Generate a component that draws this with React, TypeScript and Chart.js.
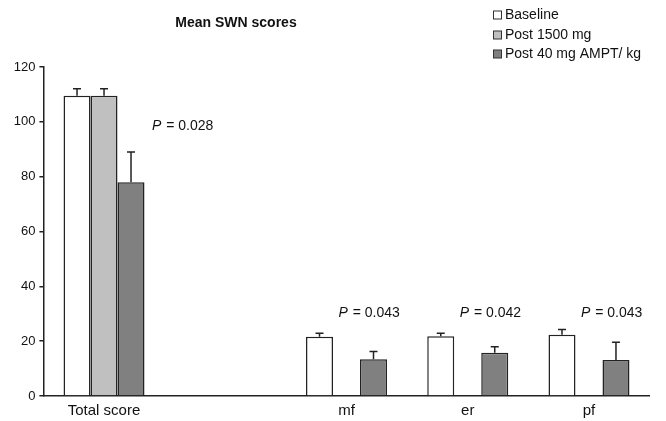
import React, { useEffect, useRef } from "react";
import { Chart, registerables } from "chart.js";

Chart.register(...registerables);

const categories = ["Total score", "", "mf", "er", "pf"];
const seriesLabels = ["Baseline", "Post 1500 mg", "Post 40 mg AMPT/ kg"];
const baseline = [109.5, null, 21.6, 21.8, 22.3];
const post1500 = [109.5, null, null, null, null];
const postAmpt = [78, null, 13.4, 15.8, 13.1];
const baselineErr = [2.6, null, 1.3, 1.1, 2.0];
const post1500Err = [2.6, null, null, null, null];
const postAmptErr = [11, null, 2.8, 2.2, 6.5];
const pTexts = ["0.028", "0.043", "0.042", "0.043"];
const pCategories = [0, 2, 3, 4];
const pValuesY = [98.6, 30.2, 30.2, 30.2];
const yTicks = [0, 20, 40, 60, 80, 100, 120];

const FONT = "'Liberation Sans', Arial, sans-serif";
const fills = ["#ffffff", "#c0c0c0", "#808080"];
const errs = [baselineErr, post1500Err, postAmptErr];

const extrasPlugin = {
  id: "extras",
  afterDatasetsDraw(chart: any) {
    const ctx = chart.ctx;
    const y = chart.scales.y;
    const x = chart.scales.x;
    ctx.save();
    // error bars
    ctx.strokeStyle = "#222";
    ctx.lineWidth = 1.5;
    chart.data.datasets.forEach((ds: any, di: number) => {
      const meta = chart.getDatasetMeta(di);
      meta.data.forEach((el: any, i: number) => {
        const v = ds.data[i];
        const e = errs[di][i];
        if (v == null || e == null) return;
        const top = y.getPixelForValue(v + e);
        const base = y.getPixelForValue(v);
        ctx.beginPath();
        ctx.moveTo(el.x, base);
        ctx.lineTo(el.x, top);
        ctx.moveTo(el.x - 4, top);
        ctx.lineTo(el.x + 4, top);
        ctx.stroke();
      });
    });
    // P annotations
    ctx.fillStyle = "#111";
    ctx.textBaseline = "middle";
    pTexts.forEach((t, k) => {
      const cat = pCategories[k];
      const cx = x.getPixelForValue(cat);
      const hasMiddle = post1500[cat] != null;
      const left = hasMiddle ? cx + 48 : cx - 8;
      const py = y.getPixelForValue(pValuesY[k]);
      ctx.textAlign = "left";
      ctx.font = `italic 14px ${FONT}`;
      ctx.fillText("P", left, py);
      const w = ctx.measureText("P").width;
      ctx.font = `14px ${FONT}`;
      ctx.fillText(" = " + t, left + w + 1, py);
    });
    // title
    ctx.font = `bold 14px ${FONT}`;
    ctx.textAlign = "center";
    ctx.fillStyle = "#111";
    ctx.fillText("Mean SWN scores", 236, 23);
    // legend
    const ly = [15, 35, 54];
    chart.data.datasets.forEach((ds: any, di: number) => {
      ctx.fillStyle = ds.backgroundColor;
      ctx.strokeStyle = "#333";
      ctx.lineWidth = 1;
      ctx.fillRect(493.5, ly[di] - 4, 8, 8);
      ctx.strokeRect(493.5, ly[di] - 4, 8, 8);
      ctx.fillStyle = "#111";
      ctx.font = `14px ${FONT}`;
      ctx.textAlign = "left";
      ctx.fillText(ds.label, 505, ly[di]);
    });
    ctx.restore();
  },
};

export default function App() {
  const ref = useRef<HTMLCanvasElement>(null);
  useEffect(() => {
    const canvas = ref.current!;
    const chart = new Chart(canvas, {
      type: "bar",
      data: {
        labels: categories,
        datasets: [baseline, post1500, postAmpt].map((d, i) => ({
          label: seriesLabels[i],
          data: d,
          backgroundColor: fills[i],
          borderColor: "#222",
          borderWidth: 1.5,
          barPercentage: 1,
          categoryPercentage: 0.668,
        })),
      } as any,
      options: {
        responsive: false,
        animation: false,
        layout: { padding: { left: 0, right: 16.4, top: 67, bottom: 0 } },
        plugins: { legend: { display: false }, title: { display: false }, tooltip: { enabled: false } },
        scales: {
          x: {
            afterFit(s: any) { s.height = 25; },
            grid: { display: false, drawTicks: false },
            border: { display: true, color: "#222", width: 1.5 },
            ticks: { color: "#111", font: { family: FONT, size: 15 }, padding: 6, autoSkip: false, maxRotation: 0 },
          },
          y: {
            min: 0,
            max: 120,
            afterFit(s: any) { s.width = 43.4; },
            afterBuildTicks(s: any) { s.ticks = yTicks.map((v) => ({ value: v })); },
            grid: { drawOnChartArea: false, drawTicks: true, tickLength: 4, color: "#222", lineWidth: 1.5 },
            border: { display: true, color: "#222", width: 1.5 },
            ticks: { color: "#111", font: { family: FONT, size: 13 }, padding: 4 },
          },
        },
      },
      plugins: [extrasPlugin],
    });
    return () => chart.destroy();
  }, []);
  return (
    <div style={{ position: "fixed", left: 0, top: 0, width: 666, height: 421, background: "#fff" }}>
      <canvas ref={ref} width={666} height={421} />
    </div>
  );
}
